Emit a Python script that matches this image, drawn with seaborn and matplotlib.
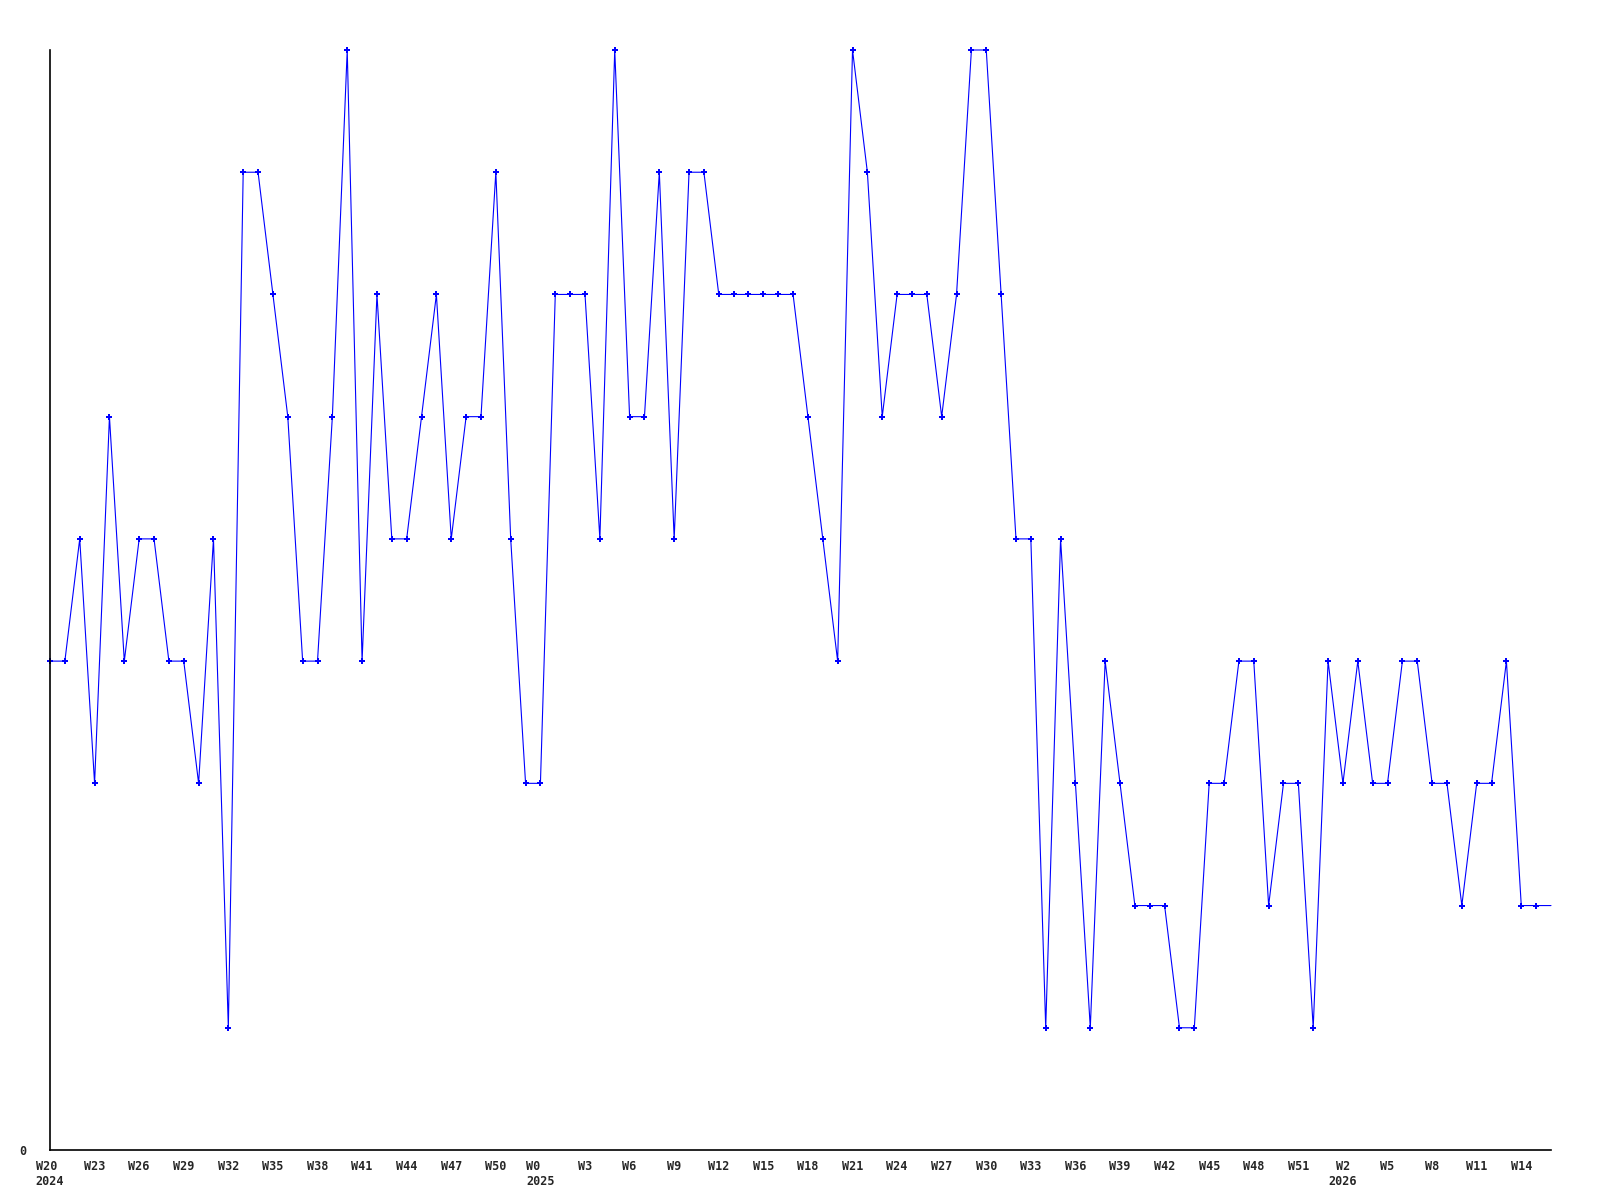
import matplotlib
matplotlib.use("Agg")
import matplotlib.pyplot as plt
import pandas as pd
import seaborn as sns

# weekly values, one per week starting at W20 2024 (last point is the current, partial week)
values = [4, 4, 5, 3, 6, 4, 5, 5, 4, 4,
          3, 5, 1, 8, 8, 7, 6, 4, 4, 6,
          9, 4, 7, 5, 5, 6, 7, 5, 6, 6,
          8, 5, 3, 3, 7, 7, 7, 5, 9, 6,
          6, 8, 5, 8, 8, 7, 7, 7, 7, 7,
          7, 6, 5, 4, 9, 8, 6, 7, 7, 7,
          6, 7, 9, 9, 7, 5, 5, 1, 5, 3,
          1, 4, 3, 2, 2, 2, 1, 1, 3, 3,
          4, 4, 2, 3, 3, 1, 4, 3, 4, 3,
          3, 4, 4, 3, 3, 2, 3, 3, 4, 2,
          2, 2]

tick_positions = [0, 3, 6, 9, 12, 15, 18, 21, 24, 27, 30,
                  33, 36, 39, 42, 45, 48, 51, 54, 57, 60, 63, 66, 69, 72, 75, 78, 81, 84,
                  87, 90, 93, 96, 99]
tick_labels = ["W20\n2024", "W23", "W26", "W29", "W32", "W35", "W38", "W41", "W44", "W47", "W50",
               "W0\n2025", "W3", "W6", "W9", "W12", "W15", "W18", "W21", "W24", "W27", "W30",
               "W33", "W36", "W39", "W42", "W45", "W48", "W51",
               "W2\n2026", "W5", "W8", "W11", "W14"]

df = pd.DataFrame({"week": range(len(values)), "value": values})

sns.set_style("white")
plt.rcParams["font.family"] = ["DejaVu Sans Mono", "DejaVu Sans"]

fig = plt.figure(figsize=(16, 12), dpi=100)
ax = fig.add_axes([50 / 1600, 50 / 1200, 1501 / 1600, 1100 / 1200])

# markers on every point except the last (partial) week
sns.lineplot(x="week", y="value", data=df, ax=ax, color="#0000ff", linewidth=0.8,
             marker="P", markersize=4.5, markeredgewidth=0, markerfacecolor="#0000ff",
             markevery=list(range(len(values) - 1)), clip_on=False)

ax.set_xlim(0, len(values) - 1)
ax.set_ylim(0, 9)
ax.set_xticks(tick_positions)
ax.set_xticklabels(tick_labels, fontsize=8.5, fontweight="bold", linespacing=1.25, va="top")
for lbl in ax.get_xticklabels():
    if lbl.get_text().endswith("2024") or lbl.get_text().endswith("2025"):
        lbl.set_multialignment("left")
ax.set_yticks([0])
ax.set_yticklabels(["0"], fontsize=8.5, fontweight="bold")
ax.tick_params(axis="x", length=0, pad=7)
ax.tick_params(axis="y", length=0, pad=17)
ax.set_xlabel("")
ax.set_ylabel("")

for side in ["top", "right"]:
    ax.spines[side].set_visible(False)
for side in ["left", "bottom"]:
    ax.spines[side].set_color("black")
    ax.spines[side].set_linewidth(1.2)
ax.grid(False)

plt.savefig("out.png", dpi=100)
plt.close()
